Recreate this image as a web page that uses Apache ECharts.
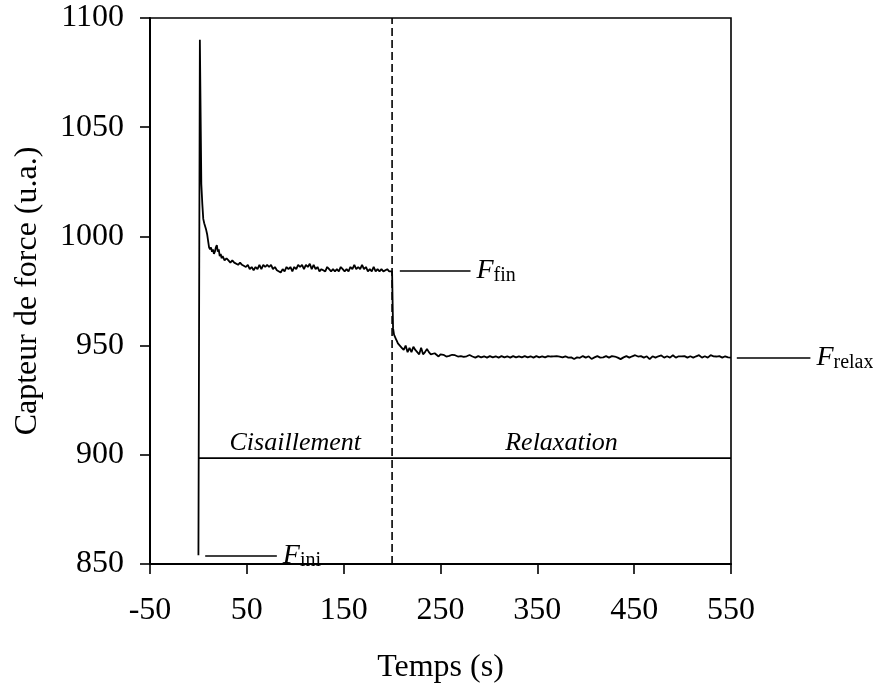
<!DOCTYPE html>
<html>
<head>
<meta charset="utf-8">
<script src="https://cdn.jsdelivr.net/npm/echarts@6/dist/echarts.min.js"></script>
<style>html,body{margin:0;padding:0;background:#fff}#chart{width:873px;height:691px}</style>
</head>
<body>
<div id="chart"></div>
<script>
// ---- data ----
const time = [
  0, 1.5, 3, 4, 5, 6, 7, 8, 9, 10, 11, 12, 13, 14, 15, 16, 17, 18, 19, 20, 21, 22, 23, 24, 25,
  27, 29, 31, 33, 35, 37, 39, 41, 43, 45, 47, 49, 51, 53, 55, 57, 59, 61, 63, 65, 67, 69, 71, 73, 75,
  77, 79, 81, 83, 85, 87, 89, 91, 93, 95, 97, 99, 101, 103, 105, 107, 109, 111, 113, 115, 117, 119,
  121, 123, 125, 127, 129, 131, 133, 135, 137, 139, 141, 143, 145, 147, 149, 151, 153, 155, 157, 159,
  161, 163, 165, 167, 169, 171, 173, 175, 177, 179, 181, 183, 185, 187, 189, 191, 193, 195, 197, 199,
  200, 201, 202, 203, 204, 205, 206, 208, 210, 212, 214, 216, 218, 220, 222, 224, 226, 228, 230, 232,
  234, 236, 238, 240, 242, 244, 246, 248, 250,
  253, 256, 259, 262, 265, 268, 271, 274, 277, 280, 283, 286, 289, 292, 295, 298, 301, 304, 307, 310,
  313, 316, 319, 322, 325, 328, 331, 334, 337, 340, 343, 346, 349, 352, 355, 358, 361, 364, 367, 370,
  373, 376, 379, 382, 385, 388, 391, 394, 397, 400, 403, 406, 409, 412, 415, 418, 421, 424, 427, 430,
  433, 436, 439, 442, 445, 448, 451, 454, 457, 460, 463, 466, 469, 472, 475, 478, 481, 484, 487, 490,
  493, 496, 499, 502, 505, 508, 511, 514, 517, 520, 523, 526, 529, 532, 535, 538, 541, 544, 547, 550
];
const force = [
  854, 1090, 1024, 1015, 1008, 1006, 1004.5, 1003, 1001, 998, 995, 994, 995, 993, 994, 992, 993, 995, 996, 993, 994, 991, 992, 990, 991,
  989, 990, 989, 988, 989, 988, 988, 987, 988, 987, 987, 986, 987, 985, 986, 984.5, 986, 985, 987, 985, 987, 986, 987, 986, 987,
  985, 986, 984.5, 985, 983.5, 985, 984, 986, 985, 986, 984, 986, 985, 987, 986, 987, 985, 987, 986, 987.5, 985, 987,
  985, 986, 984, 985, 985, 984, 986, 985, 984, 985, 984, 985, 984, 986, 985, 984, 985, 984, 986, 985,
  987, 985, 986, 985, 987, 985, 986, 984, 985, 984, 986, 984, 985, 984, 985, 984, 984, 985, 984, 984,
  984, 958, 955, 954, 953, 952, 951, 951, 949, 948, 950, 947, 949, 947, 949.5, 948, 948, 946, 949, 946,
  947, 948.5, 947, 946, 946, 946.5, 946, 945, 946,
  945.8, 945, 945.3, 945.8, 945.6, 945, 945.2, 944.8, 945.1, 945.7, 945, 944.5, 945.2, 944.6, 945.1, 944.5, 945.2, 944.6, 945.1, 944.5,
  945.2, 944.6, 945.1, 944.5, 945.2, 944.6, 945.1, 944.6, 945.2, 944.6, 945.1, 944.5, 945.2, 944.6, 945.1, 944.6, 945.2, 945, 945.1, 945.2,
  945, 944.6, 945.1, 944.5, 944.6, 943.9, 944.6, 944.4, 945.2, 944.5, 945.1, 943.9, 944.6, 945.2, 944.5, 944.6, 945.2, 944.5, 945.2, 945,
  944.5, 943.8, 944.6, 945.2, 944.5, 945.1, 945.6, 945, 945.2, 944.5, 945.1, 943.8, 945.1, 944.5, 945.1, 945.5, 944.5, 945.1, 944.5, 945.6,
  944.5, 945.1, 945.1, 945.2, 944.5, 945.1, 944.5, 945.1, 945.6, 944.5, 945.1, 944.5, 945.6, 945.1, 945, 945.2, 944.5, 945.1, 944.6, 944.5
];
const xTicks = { min: -50, max: 550, step: 100 };
const yTicks = { min: 850, max: 1100, step: 50 };
const shearLevel = 898.5;          // horizontal phase line
const switchTime = 200;            // shear -> relaxation
const phaseNames = ['Cisaillement', 'Relaxation'];
const phaseLabelX = [100, 375];
const markerNames = ['ini', 'fin', 'relax'];
const markerStartX = [7, 208, 556];
const markerEndX = [81, 281, 632];
const markerY = [854, 984.3, 944.5];

const SERIF = '"Liberation Serif", "Times New Roman", serif';
const chart = echarts.init(document.getElementById('chart'));

chart.setOption({
  animation: false,
  backgroundColor: '#fff',
  grid: { left: 150, right: 142, top: 18, bottom: 127, show: true, borderColor: '#000', borderWidth: 1.6 },
  xAxis: {
    type: 'value',
    min: xTicks.min, max: xTicks.max, interval: xTicks.step,
    name: 'Temps (s)', nameLocation: 'middle', nameGap: 88,
    nameTextStyle: { fontFamily: SERIF, fontSize: 32, color: '#000' },
    axisLine: { onZero: false, lineStyle: { color: '#000', width: 2 } },
    axisTick: { show: true, inside: false, length: 10, lineStyle: { color: '#000', width: 1.6 } },
    axisLabel: { margin: 31, fontFamily: SERIF, fontSize: 32, color: '#000', formatter: v => String(v) },
    splitLine: { show: false }
  },
  yAxis: {
    type: 'value',
    min: yTicks.min, max: yTicks.max, interval: yTicks.step,
    name: 'Capteur de force (u.a.)', nameLocation: 'middle', nameGap: 106,
    nameTextStyle: { fontFamily: SERIF, fontSize: 32, color: '#000' },
    axisLine: { onZero: false, lineStyle: { color: '#000', width: 2 } },
    axisTick: { show: true, inside: false, length: 10, lineStyle: { color: '#000', width: 1.6 } },
    axisLabel: { margin: 26, fontFamily: SERIF, fontSize: 32, color: '#000', formatter: v => String(v) },
    splitLine: { show: false }
  },
  series: [
    {
      name: 'force',
      type: 'line',
      symbol: 'none',
      silent: true,
      lineStyle: { color: '#000', width: 1.8 },
      data: time.map((t, i) => [t, force[i]])
    },
    {
      name: 'phase line',
      type: 'line',
      symbol: 'none',
      silent: true,
      lineStyle: { color: '#000', width: 1.6 },
      data: [[0, shearLevel], [xTicks.max, shearLevel]]
    },
    {
      name: 'switch',
      type: 'line',
      symbol: 'none',
      silent: true,
      lineStyle: { color: '#000', width: 1.6, type: [8, 4] },
      data: [[switchTime, yTicks.min], [switchTime, yTicks.max]]
    },
    {
      name: 'phase labels',
      type: 'scatter',
      symbolSize: 1,
      itemStyle: { color: 'rgba(0,0,0,0)' },
      silent: true,
      label: {
        show: true, position: 'top', distance: 1, formatter: '{b}', opacity: 1,
        fontFamily: SERIF, fontStyle: 'italic', fontSize: 26, color: '#000'
      },
      data: phaseNames.map((n, i) => ({ name: n, value: [phaseLabelX[i], shearLevel] }))
    },
    {
      name: 'markers',
      type: 'lines',
      coordinateSystem: 'cartesian2d',
      clip: false,
      silent: true,
      symbol: ['none', 'none'],
      lineStyle: { color: '#000', width: 1.6, opacity: 1, curveness: 0 },
      label: {
        show: true,
        position: 'end',
        distance: 6,
        formatter: p => '{f|F}{s|' + p.name + '}',
        rich: {
          f: { fontFamily: SERIF, fontStyle: 'italic', fontSize: 28, lineHeight: 30, color: '#000' },
          s: { fontFamily: SERIF, fontSize: 20, lineHeight: 14, verticalAlign: 'bottom', color: '#000' }
        }
      },
      data: markerNames.map((nm, i) => ({
        name: nm,
        coords: [[markerStartX[i], markerY[i]], [markerEndX[i], markerY[i]]]
      }))
    }
  ]
});
</script>
</body>
</html>
